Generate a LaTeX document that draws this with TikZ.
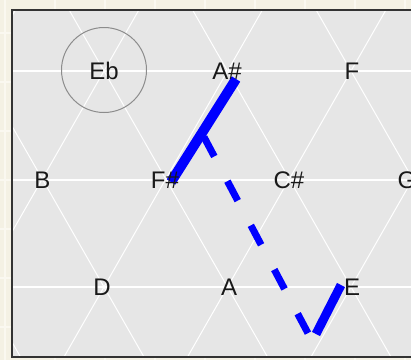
\documentclass[tikz,border=0pt]{standalone}
\usepackage{fontspec}
\setmainfont{Liberation Sans}
\definecolor{paper}{RGB}{244,241,228}
\definecolor{paperline}{RGB}{250,248,240}
\definecolor{panel}{RGB}{230,230,230}
\begin{document}
\begin{tikzpicture}[x=1pt,y=-1pt,
  note/.style={anchor=base,font=\fontsize{24}{24}\selectfont,text=black!90,inner sep=0pt},
  lattice/.style={white,line width=1pt},
  hline/.style={white,line width=1.4pt},
  paperrule/.style={paperline,line width=1.2pt},
  gesture/.style={blue,line width=#1},
  gesture/.default=9pt]
\useasboundingbox (0,0) rectangle (411,360);
% paper background
\fill[paper] (0,0) rectangle (411,360);
\foreach \gx in {5,55,...,405} \draw[paperrule] (\gx,0) -- (\gx,360);
\foreach \gy in {33,82,...,360} \draw[paperrule] (0,\gy) -- (411,\gy);
% panel
\fill[panel] (12,10) rectangle (420,357);
\begin{scope}
\clip (12,10) rectangle (420,357);
\foreach \k in {-5,...,6} {
  \draw[lattice] ({104+123.5*\k-61*0.5718},10) -- ({104+123.5*\k+286*0.5718},357);
  \draw[lattice] ({104+123.5*\k+61*0.5718},10) -- ({104+123.5*\k-286*0.5718},357);
}
\foreach \ry in {71,180,287} \draw[hline] (12,\ry) -- (420,\ry);
\end{scope}
\draw[black!80,line width=1.6pt] (420,10) -- (12,10) -- (12,357) -- (420,357);
% circle around Eb
\node[draw=black!45,line width=1pt,circle,minimum size=85pt,inner sep=0pt] (ring) at (104,70) {};
% gesture strokes
\coordinate (g1a) at (236,79);
\coordinate (g1b) at (171,182);
\coordinate (g2a) at (204,137);
\coordinate (g2b) at (310,337);
\coordinate (g3a) at (316,334);
\coordinate (g3b) at (341,285);
\draw[gesture=7pt,dash pattern=on 22pt off 28pt] (g2a) -- (g2b);
\draw[gesture=10pt] (g1a) -- (g1b);
\draw[gesture=9pt] (g3a) -- (g3b);
% note labels
\node[note] (Eb) at (104,79.5) {Eb};
\node[note] (As) at (227,79.5) {A\#};
\node[note] (F)  at (352,79.5) {F};
\node[note] (B)  at (42.5,188.5) {B};
\node[note] (Fs) at (165,188.5) {F\#};
\node[note] (Cs) at (289,188.5) {C\#};
\node[note] (G)  at (407,188.5) {G};
\node[note] (D)  at (102,295.5) {D};
\node[note] (A)  at (229,295.5) {A};
\node[note] (E)  at (352,295.5) {E};
\end{tikzpicture}
\end{document}
